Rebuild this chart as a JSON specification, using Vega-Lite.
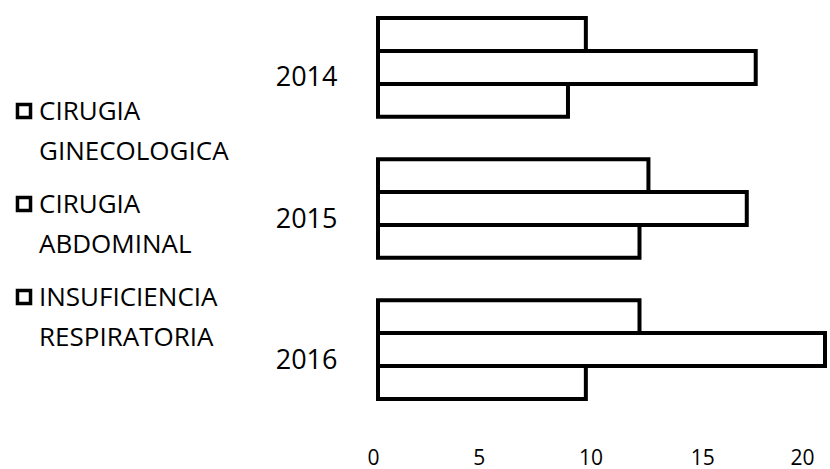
{
  "$schema": "https://vega.github.io/schema/vega-lite/v6.json",
  "width": 447,
  "height": 417,
  "autosize": {"type": "none"},
  "padding": {"left": 378, "top": 0, "right": 5, "bottom": 52},
  "background": "white",
  "data": {
    "values": [
      {"year": "2014", "serie": "CIRUGIA GINECOLOGICA", "value": 9.3},
      {"year": "2014", "serie": "CIRUGIA ABDOMINAL", "value": 16.9},
      {"year": "2014", "serie": "INSUFICIENCIA RESPIRATORIA", "value": 8.5},
      {"year": "2015", "serie": "CIRUGIA GINECOLOGICA", "value": 12.1},
      {"year": "2015", "serie": "CIRUGIA ABDOMINAL", "value": 16.5},
      {"year": "2015", "serie": "INSUFICIENCIA RESPIRATORIA", "value": 11.7},
      {"year": "2016", "serie": "CIRUGIA GINECOLOGICA", "value": 11.7},
      {"year": "2016", "serie": "CIRUGIA ABDOMINAL", "value": 20.0},
      {"year": "2016", "serie": "INSUFICIENCIA RESPIRATORIA", "value": 9.3}
    ]
  },
  "mark": {"type": "bar", "stroke": "black", "strokeWidth": 4, "fillOpacity": 1},
  "encoding": {
    "y": {
      "field": "year",
      "type": "nominal",
      "scale": {"paddingInner": 0.3, "paddingOuter": 0.128},
      "axis": {
        "title": null,
        "domain": false,
        "ticks": false,
        "labelFont": "Open Sans",
        "labelFontSize": 27,
        "labelColor": "black",
        "labelPadding": 41,
        "labelOffset": 11
      }
    },
    "yOffset": {
      "field": "serie",
      "type": "nominal",
      "scale": {"paddingInner": 0, "paddingOuter": 0, "domain": ["CIRUGIA GINECOLOGICA", "CIRUGIA ABDOMINAL", "INSUFICIENCIA RESPIRATORIA"]}
    },
    "x": {
      "field": "value",
      "type": "quantitative",
      "scale": {"domain": [0, 20], "nice": false},
      "axis": {
        "title": null,
        "domain": false,
        "ticks": false,
        "grid": false,
        "values": [0, 5, 10, 15, 20],
        "labelFont": "Open Sans",
        "labelFontSize": 21,
        "labelColor": "black",
        "labelPadding": 47,
        "labelOffset": -11,
        "labelBaseline": "alphabetic"
      }
    },
    "fill": {
      "field": "serie",
      "type": "nominal",
      "scale": {"domain": ["CIRUGIA GINECOLOGICA", "CIRUGIA ABDOMINAL", "INSUFICIENCIA RESPIRATORIA"], "range": ["white", "white", "white"]},
      "legend": {
        "title": null,
        "orient": "none",
        "legendX": -367,
        "legendY": 98,
        "symbolType": "square",
        "symbolSize": 170,
        "symbolStrokeColor": "black",
        "symbolStrokeWidth": 3.5,
        "symbolFillColor": "white",
        "labelFont": "Open Sans",
        "labelFontSize": 26,
        "labelColor": "black",
        "labelLimit": 400,
        "labelOffset": 2,
        "labelBaseline": "alphabetic",
        "labelExpr": "split(datum.label, ' ')",
        "rowPadding": 25,
        "encode": {
          "labels": {"update": {"lineHeight": {"value": 40}, "dy": {"value": 9}}}
        }
      }
    }
  },
  "config": {"view": {"stroke": null}}
}
